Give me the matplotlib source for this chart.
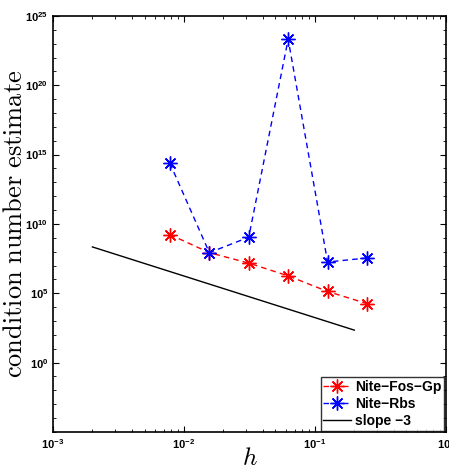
import matplotlib
matplotlib.use('Agg')
import matplotlib.pyplot as plt
import numpy as np
from matplotlib.ticker import LogLocator, NullFormatter

plt.rcParams['mathtext.fontset'] = 'custom'
plt.rcParams['mathtext.bf'] = 'Liberation Sans:bold'
plt.rcParams['mathtext.rm'] = 'Liberation Sans:bold'
plt.rcParams['font.family'] = 'Liberation Sans'

# mesh sizes
h = [1/128, 1/64, 1/32, 1/16, 1/8, 1/4]

# condition number estimates
cond_fos_gp = [1.7e9, 8.5e7, 1.5e7, 1.8e6, 1.35e5, 1.8e4]
cond_rbs = [2.4e14, 8.5e7, 1.1e9, 2.1e23, 1.8e7, 3.5e7]

# reference slope line
h_ref = [0.002, 0.2]
y_ref = [2.2e8, 2.2e2]

fig = plt.figure(figsize=(4.49, 4.68), dpi=100)
ax = fig.add_axes([0.118, 0.077, 0.875, 0.889])

ast = (8, 2, 0)  # matlab style asterisk
ax.loglog(h, cond_fos_gp, color='red', linestyle='--', dashes=(4, 3), marker=ast,
          linewidth=1.0, markersize=10, markeredgewidth=1.0, label='Nite\u2212Fos\u2212Gp')
ax.loglog(h, cond_rbs, color='blue', linestyle='--', dashes=(4, 3), marker=ast,
          linewidth=1.0, markersize=10, markeredgewidth=1.0, label='Nite\u2212Rbs')
ax.loglog(h_ref, y_ref, 'k-', linewidth=1.0, label='slope \u22123')

ax.set_xlim(1e-3, 1e0)
ax.set_ylim(1e-5, 1e25)
ax.set_xticks([1e-3, 1e-2, 1e-1, 1e0])
ax.set_xticklabels([r'$\mathbf{10^{-3}}$', r'$\mathbf{10^{-2}}$', r'$\mathbf{10^{-1}}$', r'$\mathbf{10^{0}}$'])
ax.xaxis.set_minor_locator(LogLocator(base=10, subs=np.arange(2, 10), numticks=20))
ax.xaxis.set_minor_formatter(NullFormatter())
ax.set_yticks([1e0, 1e5, 1e10, 1e15, 1e20, 1e25])
ax.set_yticklabels([r'$\mathbf{10^{0}}$', r'$\mathbf{10^{5}}$', r'$\mathbf{10^{10}}$',
                    r'$\mathbf{10^{15}}$', r'$\mathbf{10^{20}}$', r'$\mathbf{10^{25}}$'])
ax.yaxis.set_minor_locator(LogLocator(base=10, subs=[1.0], numticks=40))
ax.yaxis.set_minor_formatter(NullFormatter())

ax.tick_params(which='both', direction='in', top=True, right=True, labelsize=8)
ax.tick_params(which='major', length=4, width=0.8)
ax.tick_params(which='minor', length=2, width=0.6)
for s in ax.spines.values():
    s.set_linewidth(1.2)

ax.set_xlabel(r'$h$', fontsize=18, labelpad=-3, math_fontfamily='cm')
ax.set_ylabel(r'$\mathrm{condition\ number\ estimate}$', fontsize=19,
              math_fontfamily='cm', labelpad=-1)

leg = ax.legend(loc='lower right', prop={'weight': 'bold', 'size': 10},
                frameon=True, fancybox=False, borderaxespad=0.1, handlelength=2,
                handletextpad=0.3, labelspacing=0.2, borderpad=0.2)
leg.get_frame().set_edgecolor('black')
leg.get_frame().set_linewidth(1.0)

fig.savefig('out.png', dpi=100)
